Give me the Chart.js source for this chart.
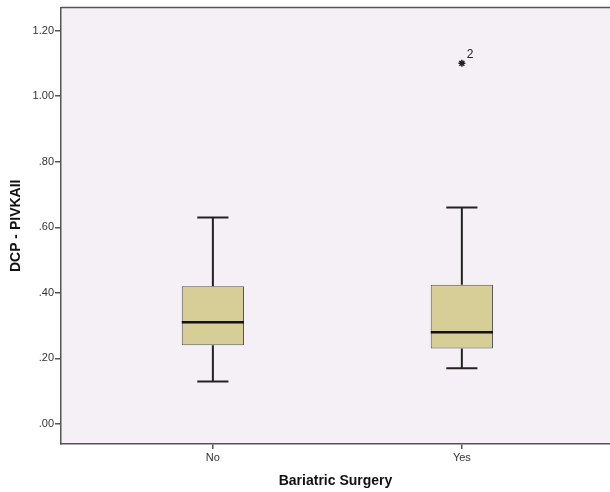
<!DOCTYPE html>
<html>
<head>
<meta charset="utf-8">
<script src="https://cdn.jsdelivr.net/npm/chart.js@4.4.1/dist/chart.umd.min.js"></script>
<style>
  html, body { margin: 0; padding: 0; background: #fff; overflow: hidden; }
  #wrap { width: 610px; height: 492px; }
</style>
</head>
<body>
<div id="wrap"><canvas id="boxChart" width="610" height="492"></canvas></div>
<script>
// groups and five-number summaries
const categories = ['No', 'Yes'];
const whiskerLow = [0.13, 0.17];
const q1 = [0.24, 0.23];
const median = [0.31, 0.28];
const q3 = [0.42, 0.425];
const whiskerHigh = [0.63, 0.66];
// outliers: [group index, value, case label]
const outlierGroup = [1];
const outlierValue = [1.10];
const outlierLabel = ['2'];
const yTicks = [0, 0.2, 0.4, 0.6, 0.8, 1.0, 1.2];

const boxWidth = 0.25;   // in category units
const capWidth = 0.125;

const boxes = categories.map((c, i) => ({ x: i, y: [q1[i], q3[i]] }));

const whiskerPts = [];
const capPts = [];
const medianPts = [];
categories.forEach((c, i) => {
    whiskerPts.push({ x: i, y: q3[i] }, { x: i, y: whiskerHigh[i] }, { x: i, y: null });
    whiskerPts.push({ x: i, y: q1[i] }, { x: i, y: whiskerLow[i] }, { x: i, y: null });
    capPts.push({ x: i - capWidth / 2, y: whiskerHigh[i] }, { x: i + capWidth / 2, y: whiskerHigh[i] }, { x: i, y: null });
    capPts.push({ x: i - capWidth / 2, y: whiskerLow[i] }, { x: i + capWidth / 2, y: whiskerLow[i] }, { x: i, y: null });
    medianPts.push({ x: i - boxWidth / 2, y: median[i] }, { x: i + boxWidth / 2, y: median[i] }, { x: i, y: null });
});
const outlierPts = outlierGroup.map((g, k) => ({ x: g, y: outlierValue[k] }));

const plotFrame = {
    id: 'plotFrame',
    beforeDraw(chart) {
        const a = chart.chartArea, c = chart.ctx;
        c.save();
        c.fillStyle = '#f5f0f5';
        c.fillRect(a.left, a.top, a.right - a.left, a.bottom - a.top);
        c.strokeStyle = '#555';
        c.lineWidth = 1.5;
        c.beginPath();
        c.moveTo(a.left, a.top);
        c.lineTo(a.right, a.top);
        c.stroke();
        c.restore();
    },
    afterDatasetsDraw(chart) {
        const meta = chart.getDatasetMeta(4);
        const c = chart.ctx;
        c.save();
        c.fillStyle = '#222';
        c.font = '12px "Liberation Sans", Arial, sans-serif';
        c.textBaseline = 'middle';
        meta.data.forEach((pt, k) => {
            c.fillText(outlierLabel[k], pt.x + 5, pt.y - 9);
        });
        c.restore();
    }
};

const tickFont = { family: '"Liberation Sans", Arial, sans-serif', size: 11 };
const titleFont = { family: '"Liberation Sans", Arial, sans-serif', size: 14, weight: 'bold' };

new Chart(document.getElementById('boxChart'), {
    type: 'bar',
    data: {
        datasets: [{
            type: 'bar',
            data: boxes,
            backgroundColor: '#d6ce96',
            borderColor: '#555',
            borderWidth: 1,
            borderSkipped: false,
            barPercentage: boxWidth,
            categoryPercentage: 1,
            order: 3
        }, {
            type: 'line',
            data: whiskerPts,
            borderColor: '#222',
            borderWidth: 2,
            pointRadius: 0,
            spanGaps: false,
            order: 4
        }, {
            type: 'line',
            data: capPts,
            borderColor: '#222',
            borderWidth: 2,
            pointRadius: 0,
            spanGaps: false,
            order: 2
        }, {
            type: 'line',
            data: medianPts,
            borderColor: '#111',
            borderWidth: 2.5,
            pointRadius: 0,
            spanGaps: false,
            order: 1
        }, {
            type: 'scatter',
            data: outlierPts,
            pointStyle: 'star',
            pointRadius: 3.5,
            borderColor: '#222',
            borderWidth: 1.5,
            backgroundColor: '#222',
            order: 0
        }]
    },
    options: {
        responsive: false,
        animation: false,
        layout: { autoPadding: false, padding: { top: 7, right: 0, left: 0, bottom: 0 } },
        plugins: { legend: { display: false }, tooltip: { enabled: false } },
        scales: {
            x: {
                type: 'linear',
                offset: false,
                min: -0.61,
                max: 1.595,
                afterBuildTicks: (axis) => { axis.ticks = categories.map((c, i) => ({ value: i })); },
                afterFit: (axis) => { axis.height = 48; },
                ticks: {
                    callback: (v) => categories[v],
                    font: tickFont,
                    color: '#333',
                    padding: 2,
                    maxRotation: 0
                },
                grid: { offset: false, drawOnChartArea: false, drawTicks: true, tickLength: 5, color: '#555', lineWidth: 1.5 },
                border: { display: true, color: '#555', width: 1.5 },
                title: { display: true, text: 'Bariatric Surgery', font: titleFont, color: '#111', padding: { top: 4, bottom: 2 } }
            },
            y: {
                min: -0.061,
                max: 1.27,
                afterBuildTicks: (axis) => { axis.ticks = yTicks.map(v => ({ value: v })); },
                afterFit: (axis) => { axis.width = 61; },
                ticks: {
                    callback: (v) => v.toFixed(2).replace(/^0/, ''),
                    font: tickFont,
                    color: '#333',
                    padding: 1
                },
                grid: { drawOnChartArea: false, drawTicks: true, tickLength: 6, color: '#555', lineWidth: 1.5 },
                border: { display: true, color: '#555', width: 1.5 },
                title: { display: true, text: 'DCP - PIVKAII', font: titleFont, color: '#111', padding: { top: 8, bottom: 2 } }
            }
        }
    },
    plugins: [plotFrame]
});
</script>
</body>
</html>
